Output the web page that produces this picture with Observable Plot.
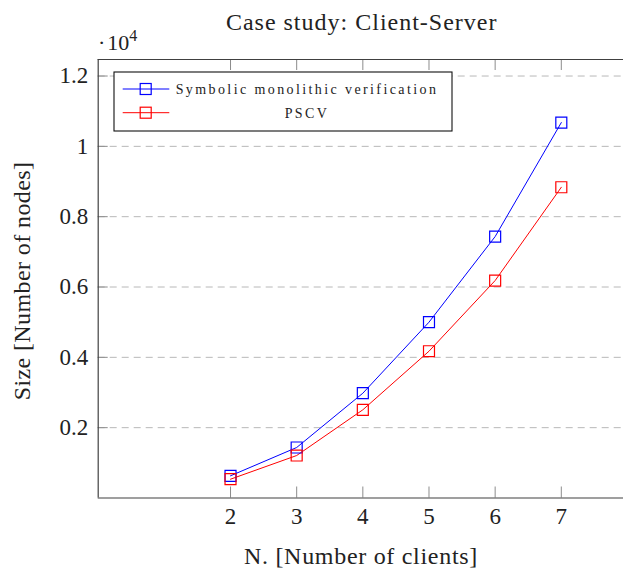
<!DOCTYPE html>
<html>
<head>
<meta charset="utf-8">
<script src="https://cdn.jsdelivr.net/npm/d3@7"></script>
<script src="https://cdn.jsdelivr.net/npm/@observablehq/plot@0.6"></script>
<style>
  html, body { margin: 0; padding: 0; background: #fff; }
  #chart { width: 623px; height: 573px; }
</style>
</head>
<body>
<div id="chart"></div>
<script>
// ---- data ----
const clients = [2, 3, 4, 5, 6, 7];
const symbolicSizes = [631, 1436, 2980, 5000, 7435, 10677];
const pscvSizes = [535, 1208, 2508, 4174, 6184, 8837];
const seriesNames = ["Symbolic monolithic verification", "PSCV"];
const seriesColors = ["#0000ff", "#ff0000"];
const xTicks = [2, 3, 4, 5, 6, 7];
const yTicks = [2000, 4000, 6000, 8000, 10000, 12000];

const title = "Case study: Client-Server";
const xLabel = "N. [Number of clients]";
const yLabel = "Size [Number of nodes]";

// ---- layout ----
const W = 623, H = 573;
const mL = 97.7, mT = 59, mB = 75.5, mR = 0;
const frameW = W - mL - mR, frameH = H - mT - mB;
const xDomain = [0, 7.94];
const yDomain = [0, 12470];
const serif = "'Liberation Serif', 'Times New Roman', serif";

const rows = [];
clients.forEach((c, i) => {
  rows.push({n: c, size: symbolicSizes[i], series: seriesNames[0]});
  rows.push({n: c, size: pscvSizes[i], series: seriesNames[1]});
});

const tickColor = "#8c8c8c";

const plot = Plot.plot({
  width: W, height: H,
  marginLeft: mL, marginTop: mT, marginBottom: mB, marginRight: mR,
  style: {fontFamily: serif, fontSize: "23px", color: "#222", background: "#fff"},
  x: {domain: xDomain},
  y: {domain: yDomain},
  color: {domain: seriesNames, range: seriesColors},
  marks: [
    // grid
    Plot.ruleY(yTicks, {y: d => d, stroke: "#b8b8b8", strokeWidth: 1, strokeDasharray: "7,5"}),
    // inner ticks
    Plot.tickX(xTicks, {x: d => d, insetTop: frameH - 11, stroke: tickColor, strokeWidth: 1}),
    Plot.tickX(xTicks, {x: d => d, insetBottom: frameH - 11, stroke: tickColor, strokeWidth: 1}),
    Plot.tickY(yTicks, {y: d => d, insetRight: frameW - 10, stroke: tickColor, strokeWidth: 1}),
    // axes labels
    Plot.axisX({ticks: xTicks, tickSize: 0, tickPadding: 10, label: null, tickFormat: d => String(d), fill: "#222"}),
    Plot.axisY({ticks: yTicks, tickSize: 0, tickPadding: 10, label: null, tickFormat: d => String(+(d / 1e4).toFixed(1)), fill: "#222"}),
    // frame (left, top, bottom)
    Plot.ruleX([xDomain[0]], {stroke: "#404040", strokeWidth: 1.2}),
    Plot.ruleY([yDomain[0], yDomain[1]], {stroke: "#404040", strokeWidth: 1.2}),
    // data
    Plot.line(rows, {x: "n", y: "size", z: "series", stroke: "series", strokeWidth: 1}),
    Plot.dot(rows, {x: "n", y: "size", stroke: "series", symbol: "square", r: 6.2, strokeWidth: 1.2, fill: "none"})
  ]
});

document.getElementById("chart").appendChild(plot);

// ---- annotations (title, labels, multiplier, legend) ----
const svg = d3.select(plot);

svg.append("text").attr("x", 361.7).attr("y", 30)
  .attr("text-anchor", "middle").attr("font-family", serif).attr("font-size", 24)
  .attr("letter-spacing", "1px").attr("fill", "#222").text(title);

svg.append("text").attr("x", 361).attr("y", 564)
  .attr("text-anchor", "middle").attr("font-family", serif).attr("font-size", 24)
  .attr("letter-spacing", "0.7px").attr("fill", "#222").text(xLabel);

svg.append("text").attr("transform", "translate(30,281) rotate(-90)")
  .attr("text-anchor", "middle").attr("font-family", serif).attr("font-size", 24)
  .attr("letter-spacing", "0.4px").attr("fill", "#222").text(yLabel);

const mult = svg.append("text").attr("x", 98).attr("y", 50)
  .attr("text-anchor", "start")
  .attr("font-family", serif).attr("font-size", 22).attr("fill", "#222");
mult.append("tspan").text("\u00b7");
mult.append("tspan").attr("dx", 2).text("10");
mult.append("tspan").attr("font-size", 16).attr("dy", -9).text("4");

// legend
const lg = svg.append("g");
lg.append("rect").attr("x", 114).attr("y", 72).attr("width", 338).attr("height", 59)
  .attr("fill", "#fff").attr("stroke", "#111").attr("stroke-width", 1.1);
const rowY = [89, 112.7];
seriesNames.forEach((name, i) => {
  const y = rowY[i];
  lg.append("line").attr("x1", 122.7).attr("x2", 169.3).attr("y1", y).attr("y2", y)
    .attr("stroke", seriesColors[i]).attr("stroke-width", 1);
  lg.append("rect").attr("x", 145.7 - 5.5).attr("y", y - 5.5).attr("width", 11).attr("height", 11)
    .attr("fill", "none").attr("stroke", seriesColors[i]).attr("stroke-width", 1.2);
  lg.append("text").attr("x", 307).attr("y", y + 4.8)
    .attr("text-anchor", "middle").attr("font-family", serif).attr("font-size", 14)
    .attr("letter-spacing", "2.4px").attr("fill", "#222").text(name);
});
</script>
</body>
</html>
